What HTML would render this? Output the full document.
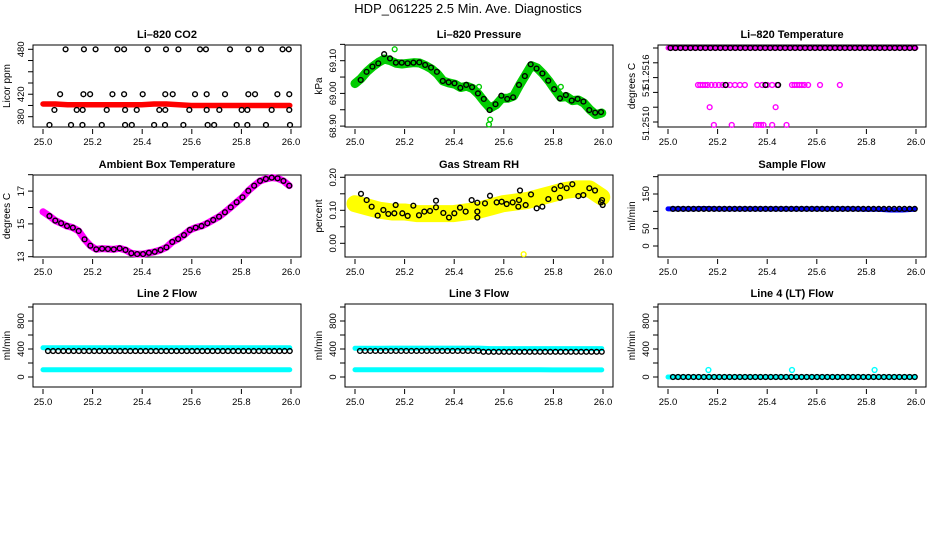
<!DOCTYPE html>
<html><head><meta charset="utf-8"><style>
html,body{margin:0;padding:0;background:#fff;}
svg{display:block;font-family:"Liberation Sans",Arial,sans-serif;}
</style></head><body>
<svg id="chart" width="936" height="540" viewBox="0 0 936 540">
<rect width="936" height="540" fill="#fff"/>
<text x="468" y="13" text-anchor="middle" font-size="13">HDP_061225  2.5 Min. Ave. Diagnostics</text>
</svg>
<script>
// ---- data ----
const xTicks = [25.0, 25.2, 25.4, 25.6, 25.8, 26.0];
const xTickLabels = ["25.0", "25.2", "25.4", "25.6", "25.8", "26.0"];

// CO2
const co2BlackT = [25.091,25.165,25.212,25.300,25.327,25.422,25.496,25.546,25.633,25.657,25.754,25.828,25.879,25.966,25.991,
 25.069,25.163,25.190,25.280,25.327,25.402,25.493,25.523,25.613,25.660,25.734,25.828,25.855,25.945,25.993,
 25.046,25.136,25.160,25.257,25.331,25.378,25.469,25.493,25.590,25.660,25.711,25.801,25.824,25.922,25.993,
 25.026,25.113,25.159,25.237,25.331,25.358,25.448,25.492,25.566,25.664,25.690,25.781,25.824,25.899,25.996];
const co2BlackV = [480,480,480,480,480,480,480,480,480,480,480,480,480,480,480,
 420,420,420,420,420,420,420,420,420,420,420,420,420,420,420,
 399,399,399,399,399,399,399,399,399,399,399,399,399,399,399,
 379,379,379,379,379,379,379,379,379,379,379,379,379,379,379];
const co2RedV = [407,407,406,406,406,406,406,406,406,407,407,406,405,405,405,405,405,405,405,405,405];

// Pressure (black, 30-min) and green band
const presV = [69.041,69.066,69.082,69.092,69.120,69.107,69.094,69.094,69.092,69.094,69.095,69.087,69.079,69.066,69.038,69.034,69.031,69.017,69.026,69.019,69.000,68.983,68.949,68.967,68.993,68.983,68.988,69.026,69.053,69.089,69.076,69.061,69.039,69.013,68.985,68.995,68.978,68.983,68.975,68.949,68.941,68.943];
const presGreenV = [69.030,69.045,69.066,69.082,69.095,69.105,69.100,69.092,69.090,69.092,69.094,69.093,69.085,69.075,69.060,69.038,69.032,69.028,69.018,69.022,69.015,68.998,68.975,68.955,68.965,68.985,68.985,68.992,69.025,69.055,69.085,69.078,69.060,69.038,69.012,68.988,68.990,68.978,68.980,68.970,68.950,68.935,68.940];

// Li-820 temperature
const tempTopV = [51.2520, 51.2520];
const tempMidT = [25.121,25.13,25.14,25.15,25.16,25.175,25.19,25.205,25.22,25.235,25.25,25.27,25.29,25.31,25.36,25.38,25.40,25.42,25.44,25.50,25.51,25.52,25.53,25.54,25.55,25.565,25.613,25.693];
const tempMidV = [51.2515,51.2515,51.2515,51.2515,51.2515,51.2515,51.2515,51.2515,51.2515,51.2515,51.2515,51.2515,51.2515,51.2515,51.2515,51.2515,51.2515,51.2515,51.2515,51.2515,51.2515,51.2515,51.2515,51.2515,51.2515,51.2515,51.2515,51.2515];
const tempLowT = [25.168,25.434,25.185,25.257,25.355,25.365,25.375,25.385,25.42,25.478];
const tempLowV = [51.2512,51.2512,51.25096,51.25096,51.25096,51.25096,51.25096,51.25096,51.25096,51.25096];
const tempBlackMidT = [25.232,25.393,25.444];
const tempBlackMidV = [51.2515,51.2515,51.2515];

// Ambient box temperature
const ambV = [15.48,15.20,15.04,14.87,14.77,14.57,14.06,13.67,13.45,13.49,13.47,13.45,13.51,13.41,13.21,13.16,13.16,13.24,13.30,13.41,13.57,13.90,14.08,14.32,14.63,14.77,14.87,15.04,15.24,15.44,15.71,16.01,16.32,16.62,17.02,17.33,17.62,17.74,17.82,17.78,17.62,17.33];
const ambBandV = [15.74,15.48,15.20,15.04,14.87,14.77,14.57,14.06,13.67,13.45,13.49,13.47,13.45,13.51,13.41,13.21,13.16,13.16,13.24,13.30,13.41,13.57,13.90,14.08,14.32,14.63,14.77,14.87,15.04,15.24,15.44,15.71,16.01,16.32,16.62,17.02,17.33,17.62,17.74,17.82,17.78,17.62,17.33];

// Gas stream RH
const rhZx = [183,200,215,233,250,265,283,287,307,323,340,357,373,390,408,408,430,447,463,480,497,515,532,532,532,555,570,590,605,620,638,655,657,660,677,693,710,727,745,763,780,782,800,817,835,850,868,885,903,906,908];
const rhV = [.150,.131,.111,.084,.101,.089,.091,.116,.091,.083,.114,.085,.096,.098,.109,.129,.092,.078,.091,.108,.096,.131,.096,.123,.078,.121,.144,.124,.126,.119,.124,.111,.131,.160,.116,.148,.106,.111,.134,.164,.138,.174,.167,.179,.143,.146,.167,.160,.124,.131,.116];
const rhYellowV = [.12,.11,.10,.095,.095,.09,.09,.09,.09,.095,.10,.11,.12,.125,.13,.14,.15,.16,.165,.165,.14];
const rhOutT = [25.68];
const rhOutV = [-0.033];

// Sample flow
const sampleBlueV = [107,107,107,108,107,107,107,107,107,107,107,107,107,107,107,107,106,106,104,104,106];
const sampleBlackV = 107;

// Line flows
const line2UpperV = [418,418,418,418,418,418,418,418,418,418,418,418,418,418,418,418,418,418,418,418,418];
const line2LowerV = [104,104,104,104,104,104,104,104,104,104,104,104,104,104,104,104,104,104,104,104,104];
const line2BlackV = 371;
const line3UpperV = [410,410,410,412,412,412,412,412,412,412,412,406,406,406,406,406,406,406,406,406,406];
const line3LowerV = [104,104,104,104,104,104,104,104,104,104,104,104,104,104,104,104,102,102,102,102,102];
const line3BlackV = [372,372,372,372,372,372,372,372,372,372,372,372,372,372,372,372,372,372,372,372,372,372,372,372,360,360,360,360,360,360,360,360,360,360,360,360,360,360,360,360,360,360,360,360,360,360,360,360];
const line4CyanOutT = [25.163, 25.5, 25.833];
const line4CyanOutV = [100, 100, 100];

// ---- drawing ----
const svg = document.getElementById('chart');
const NS = 'http://www.w3.org/2000/svg';
function mk(tag, attrs, parent){ const e=document.createElementNS(NS,tag); for(const k in attrs) e.setAttribute(k,attrs[k]); (parent||svg).appendChild(e); return e; }

const cols = [{L:33,R:301},{L:345,R:613},{L:658,R:926}];
const rows = [{T:45,B:127},{T:175,B:257},{T:304,B:387}];

function panel(name, ci, ri, title, ylab, yMapV, yMapP, yTicks, yLabels){
  const c=cols[ci], r=rows[ri];
  const g = mk('g',{});
  
  
  const x0=c.L+10, x1=c.R-10;
  const xs = t => x0 + (t-25)*(x1-x0);
  const ys = v => yMapP[0] + (v-yMapV[0])*(yMapP[1]-yMapP[0])/(yMapV[1]-yMapV[0]);
  const t = mk('text',{x:(c.L+c.R)/2, y:r.T-7, 'text-anchor':'middle','font-size':11,'font-weight':'bold'},g);
  t.textContent = title;
  
  
  const box = mk('rect',{x:c.L,y:r.T,width:c.R-c.L,height:r.B-r.T,fill:'none',stroke:'#000','stroke-width':1},g);
  
  
  const xa = mk('g',{},g);
  
  
  xTicks.forEach((tv,i)=>{
    const X=xs(tv);
    mk('line',{x1:X,x2:X,y1:r.B+2,y2:r.B+7,stroke:'#000'},xa);
    const tl=mk('text',{x:X,y:r.B+18,'text-anchor':'middle','font-size':9.5},xa);
    tl.textContent = xTickLabels[i];
    
    
  });
  const ya = mk('g',{},g);
  
  
  yTicks.forEach(v=>{
    const Y=ys(v);
    if(Y<r.T-1||Y>r.B+1) return;
    mk('line',{x1:c.L-5,x2:c.L,y1:Y,y2:Y,stroke:'#000'},ya);
  });
  yLabels.forEach(l=>{
    const Y=ys(l[0]);
    const tl=mk('text',{x:0,y:0,'text-anchor':'middle','font-size':9.5,transform:`translate(${c.L-9},${Y}) rotate(-90)`},ya);
    tl.textContent=l[1];
    
    
  });
  const yl = mk('text',{x:0,y:0,'text-anchor':'middle','font-size':10,transform:`translate(${c.L-23},${(r.T+r.B)/2}) rotate(-90)`},g);
  yl.textContent = ylab;
  
  
  const clipId='clip'+ci+ri;
  const cp=mk('clipPath',{id:clipId},g); mk('rect',{x:c.L,y:r.T-4,width:c.R-c.L,height:r.B-r.T+8},cp);
  const plot = mk('g',{'clip-path':`url(#${clipId})`},g);
  
  
  return {xs,ys,plot};
}
function band(p, tArr, vArr, color, w, name){
  const pts = vArr.map((v,i)=>`${p.xs(tArr(i,vArr.length))},${p.ys(v)}`).join(' ');
  const e = mk('polyline',{points:pts,fill:'none',stroke:color,'stroke-width':w,'stroke-linejoin':'round','stroke-linecap':'round'},p.plot);
  
  
}
function pts(p, tArr, vArr, color, name, r){
  vArr.forEach((v,i)=>{
    const e = mk('circle',{cx:p.xs(tArr[i]),cy:p.ys(v),r:r||2.4,fill:'none',stroke:color,'stroke-width':1.4},p.plot);
    
    
  });
}
const even = (a,b)=>(i,n)=>25+a+(b-a)*i/(n-1);
function evenArr(n,a,b){ const o=[]; for(let i=0;i<n;i++) o.push(25+a+(b-a)*i/(n-1)); return o; }

// 1 CO2
let p = panel('co2-panel',0,0,'Li\u2013820 CO2','Licor ppm',[480,390],[49.3,116.7],[480,465,450,435,420,405,390],[[480,'480'],[420,'420'],[390,'380']]);
band(p, even(0,0.995), co2RedV, '#ff0000', 5.5, 'co2-red-series');
pts(p, co2BlackT, co2BlackV, '#000', 'co2-point');

// 2 Pressure
p = panel('pressure-panel',1,0,'Li\u2013820 Pressure','kPa',[69.10,68.90],[60.7,126.1],[69.15,69.10,69.05,69.00,68.95,68.90],[[69.10,'69.10'],[69.00,'69.00'],[68.90,'68.90']]);
band(p, even(0.0,0.995), presGreenV, '#00cc00', 9, 'pressure-green-series');
pts(p, evenArr(42,0.023,0.992), presV, '#000', 'pressure-point');
pts(p, [25.16,25.54,25.545,25.50,25.83], [69.135,68.905,68.92,69.02,69.02], '#00cc00', 'pressure-green-outlier');

// 3 Temperature
p = panel('li820-temperature-panel',2,0,'Li\u2013820 Temperature','degrees C',[51.2520,51.2510],[48,122],[51.2520,51.2518,51.2516,51.2514,51.2512,51.2510],[[51.25168,'51.2516'],[51.25141,'51'],[51.25098,'51.2510']]);
band(p, even(0,1), tempTopV, '#ff00ff', 5, 'temperature-magenta-series');
pts(p, evenArr(50,0.01,0.995), new Array(50).fill(51.2520), '#000', 'temperature-black-point');
pts(p, tempMidT, tempMidV, '#ff00ff', 'temperature-magenta-point');
pts(p, tempLowT, tempLowV, '#ff00ff', 'temperature-magenta-point');
pts(p, tempBlackMidT, tempBlackMidV, '#000', 'temperature-black-point');

// 4 Ambient
p = panel('ambient-temperature-panel',0,1,'Ambient Box Temperature','degrees C',[13,17],[256.7,191.1],[18,17,16,15,14,13],[[13,'13'],[15,'15'],[17,'17']]);
band(p, (i,n)=> i===0?25.0:25.026+(0.967)*(i-1)/(n-2), ambBandV, '#ff00ff', 7, 'ambient-magenta-series');
pts(p, evenArr(42,0.026,0.993), ambV, '#000', 'ambient-point');

// 5 RH
p = panel('rh-panel',1,1,'Gas Stream RH','percent',[0.20,0.0],[177.3,243.3],[0.20,0.15,0.10,0.05,0.0,-0.05],[[0.20,'0.20'],[0.10,'0.10'],[0.0,'0.00']]);
band(p, even(0,0.995), rhYellowV, '#ffff00', 17, 'rh-yellow-series');
pts(p, rhOutT, rhOutV, '#ffff00', 'rh-yellow-outlier');
pts(p, rhZx.map(z=>25+(z/3-55)/248), rhV, '#000', 'rh-point');

// 6 Sample flow
p = panel('sample-flow-panel',2,1,'Sample Flow','ml/min',[0,150],[246,194],[200,150,100,50,0],[[0,'0'],[50,'50'],[150,'150']]);
band(p, even(0,0.995), sampleBlueV, '#0000ff', 5, 'sample-flow-blue-series');
pts(p, evenArr(48,0.02,0.995), new Array(48).fill(sampleBlackV), '#000', 'sample-flow-point');

// 7-9 Line flows
const flowTicks=[1000,800,600,400,200,0], flowLabels=[[0,'0'],[400,'400'],[800,'800']];
p = panel('line2-flow-panel',0,2,'Line 2 Flow','ml/min',[0,800],[377,321],flowTicks,flowLabels);
band(p, even(0,0.995), line2UpperV, '#00ffff', 5, 'line2-cyan-upper');
band(p, even(0,0.995), line2LowerV, '#00ffff', 5, 'line2-cyan-lower');
pts(p, evenArr(48,0.02,0.995), new Array(48).fill(line2BlackV), '#000', 'line2-point');

p = panel('line3-flow-panel',1,2,'Line 3 Flow','ml/min',[0,800],[377,321],flowTicks,flowLabels);
band(p, even(0,0.995), line3UpperV, '#00ffff', 5, 'line3-cyan-upper');
band(p, even(0,0.995), line3LowerV, '#00ffff', 5, 'line3-cyan-lower');
pts(p, evenArr(48,0.02,0.995), line3BlackV, '#000', 'line3-point');

p = panel('line4-flow-panel',2,2,'Line 4 (LT) Flow','ml/min',[0,800],[377,321],flowTicks,flowLabels);
band(p, even(0,0.995), new Array(21).fill(0), '#00ffff', 5, 'line4-cyan-series');
pts(p, evenArr(48,0.02,0.995), new Array(48).fill(0), '#000', 'line4-point');
pts(p, line4CyanOutT, line4CyanOutV, '#00ffff', 'line4-cyan-outlier');
</script>
</body></html>
